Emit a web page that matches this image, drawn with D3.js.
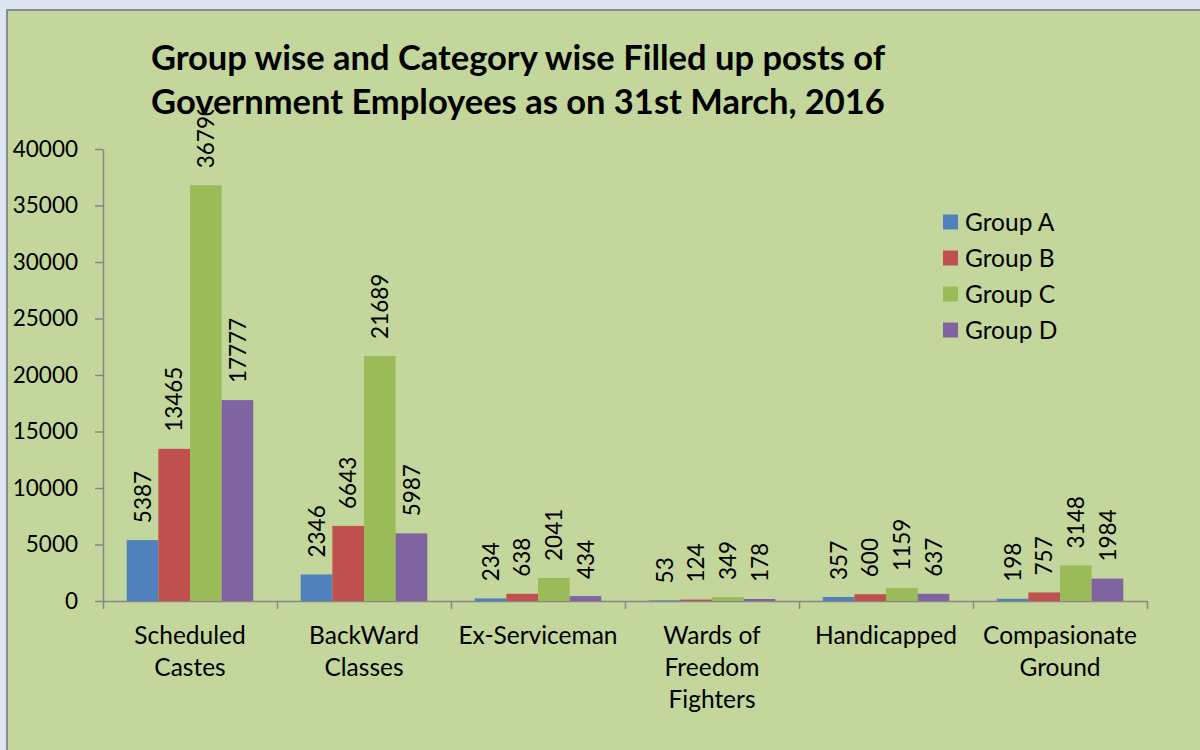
<!DOCTYPE html>
<html lang="en"><head>
<meta charset="utf-8">
<title>Group wise and Category wise Filled up posts</title>
<script src="https://d3js.org/d3.v7.min.js"></script>
<style>
  body { margin: 0; background: #dce6f2; }
  text { font-family: Lato, "Open Sans", sans-serif; fill: #000; }
</style>
</head>
<body>
<div id="my_dataviz"></div>
<script>

// data
const categories = ["Scheduled Castes", "BackWard Classes", "Ex-Serviceman",
                    "Wards of Freedom Fighters", "Handicapped", "Compasionate Ground"];
const catLines = [["Scheduled", "Castes"], ["BackWard", "Classes"], ["Ex-Serviceman"],
                  ["Wards of", "Freedom", "Fighters"], ["Handicapped"], ["Compasionate", "Ground"]];
const groups = ["Group A", "Group B", "Group C", "Group D"];
const groupA = [5387, 2346, 234, 53, 357, 198];
const groupB = [13465, 6643, 638, 124, 600, 757];
const groupC = [36790, 21689, 2041, 349, 1159, 3148];
const groupD = [17777, 5987, 434, 178, 637, 1984];
const yTicks = [0, 5000, 10000, 15000, 20000, 25000, 30000, 35000, 40000];
const colors = ["#4f81bd", "#c0504d", "#9bbb59", "#8064a2"];

const series = [groupA, groupB, groupC, groupD];

const W = 1200, H = 750;
const plot = {left: 103, right: 1147, top: 149, bottom: 601};

const svg = d3.select("#my_dataviz")
  .append("svg")
    .attr("width", W)
    .attr("height", H)
    .style("display", "block");

// outer panel
svg.append("rect")
  .attr("x", 7).attr("y", 10)
  .attr("width", W + 10).attr("height", H + 10)
  .attr("fill", "#c3d69b")
  .attr("stroke", "#8c8c8c")
  .attr("stroke-width", 2);

// scales
const x0 = d3.scaleBand()
  .domain(categories)
  .range([plot.left, plot.right])
  .padding(0);

const x1 = d3.scaleBand()
  .domain(groups)
  .range([0, x0.bandwidth()])
  .paddingInner(0)
  .paddingOuter(0.75);

const y = d3.scaleLinear()
  .domain([0, 40000])
  .range([plot.bottom, plot.top]);

const color = d3.scaleOrdinal().domain(groups).range(colors);

// y axis
const yAxis = svg.append("g")
  .attr("transform", `translate(${plot.left},0)`)
  .call(d3.axisLeft(y).tickValues(yTicks).tickSizeInner(8).tickSizeOuter(0).tickPadding(17).tickFormat(d3.format("d")));
yAxis.selectAll("line, path").attr("stroke", "#868686").attr("stroke-width", 1.5);
yAxis.selectAll("text").style("font-size", "22.5px").attr("font-family", null);

// x axis: boundary ticks
const bound = d3.scaleLinear().domain([0, categories.length]).range([plot.left, plot.right]);
const xAxis = svg.append("g")
  .attr("transform", `translate(0,${plot.bottom})`)
  .call(d3.axisBottom(bound).ticks(categories.length).tickSizeInner(8).tickSizeOuter(0).tickFormat(""));
xAxis.selectAll("line, path").attr("stroke", "#868686").attr("stroke-width", 1.5);

// category labels
const catG = svg.append("g")
  .selectAll("text")
  .data(categories)
  .join("text")
    .attr("x", d => x0(d) + x0.bandwidth() / 2)
    .attr("y", 644)
    .attr("text-anchor", "middle")
    .style("font-size", "24.5px");
catG.selectAll("tspan")
  .data((d, i) => catLines[i])
  .join("tspan")
    .attr("x", function() { return this.parentNode.getAttribute("x"); })
    .attr("dy", (d, i) => i === 0 ? 0 : 32)
    .text(d => d);

// bars
const rows = categories.map((c, i) => ({cat: c, vals: groups.map((g, j) => ({g: g, v: series[j][i]}))}));

const catGroups = svg.append("g")
  .selectAll("g")
  .data(rows)
  .join("g")
    .attr("transform", d => `translate(${x0(d.cat)},0)`);

catGroups.selectAll("rect")
  .data(d => d.vals)
  .join("rect")
    .attr("x", d => x1(d.g))
    .attr("y", d => y(d.v))
    .attr("width", x1.bandwidth())
    .attr("height", d => y(0) - y(d.v))
    .attr("fill", d => color(d.g));

// value labels (clipped under the title like the original)
svg.append("clipPath").attr("id", "labclip")
  .append("rect").attr("x", 0).attr("y", 110).attr("width", W).attr("height", H);

catGroups.append("g")
  .attr("clip-path", "url(#labclip)")
  .selectAll("text")
  .data(d => d.vals)
  .join("text")
    .attr("transform", d => `translate(${x1(d.g) + x1.bandwidth() / 2},${y(d.v) - 17}) rotate(-90)`)
    .attr("dy", "0.36em")
    .style("font-size", "22.5px")
    .text(d => d.v);

// title
const title = svg.append("text")
  .attr("x", 518)
  .attr("y", 70)
  .attr("text-anchor", "middle")
  .style("font-size", "34.5px")
  .style("font-weight", "bold");
title.append("tspan").attr("x", 518).text("Group wise and Category wise Filled up posts of");
title.append("tspan").attr("x", 518).attr("dy", 44).text("Government Employees as on 31st March, 2016");

// legend
const legend = svg.append("g")
  .selectAll("g")
  .data(groups)
  .join("g")
    .attr("transform", (d, i) => `translate(943,${222 + i * 36})`);
legend.append("rect")
  .attr("x", 0).attr("y", -7.5)
  .attr("width", 15).attr("height", 15)
  .attr("fill", d => color(d));
legend.append("text")
  .attr("x", 22)
  .attr("dy", "0.35em")
  .style("font-size", "24.5px")
  .text(d => d);

</script>
</body>
</html>
